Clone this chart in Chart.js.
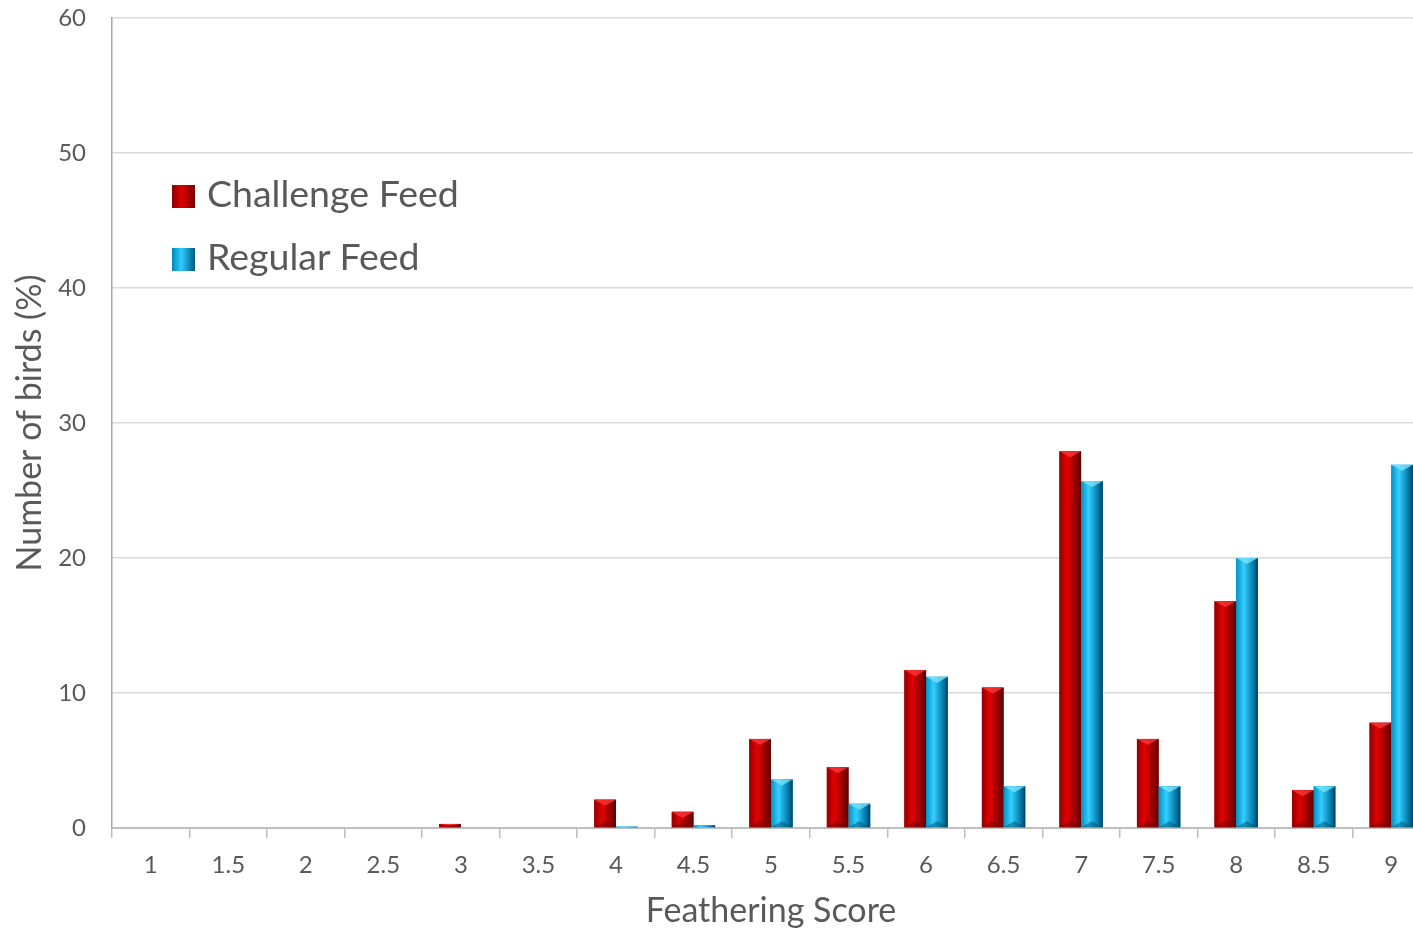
<!DOCTYPE html>
<html lang="en">
<head>
  <meta charset="UTF-8" />
  <title>Feathering Score</title>
  <script src="https://cdn.jsdelivr.net/npm/chart.js"></script>
  <style>
    html, body {
      margin: 0;
      padding: 0;
      background: #fff;
      overflow: hidden;
    }
    .wrap {
      position: relative;
      width: 1430px;
      height: 931px;
    }
    .legend {
      position: absolute;
      left: 172px;
      top: 169px;
      font-family: Lato, 'Open Sans', sans-serif;
      font-size: 37.5px;
      color: #595959;
    }
    .legend div {
      height: 63px;
      line-height: 48px;
      white-space: nowrap;
    }
    .legend span {
      display: inline-block;
      width: 23px;
      height: 23px;
      margin-right: 12px;
      vertical-align: -1px;
    }
  </style>
</head>
<body>
  <div class="wrap">
    <canvas id="chart" width="1430" height="931"></canvas>
    <div class="legend">
      <div><span style="background: linear-gradient(90deg,#8a0000,#e00000 40%,#7a0000)"></span>Challenge Feed</div>
      <div><span style="background: linear-gradient(90deg,#0088bb,#30ccff 40%,#005a80)"></span>Regular Feed</div>
    </div>
  </div>

  <script>
    const scores = ["1", "1.5", "2", "2.5", "3", "3.5", "4", "4.5", "5", "5.5", "6", "6.5", "7", "7.5", "8", "8.5", "9"];
    const challengeFeed = [0, 0, 0, 0, 0.3, 0, 2.1, 1.2, 6.6, 4.5, 11.7, 10.4, 27.9, 6.6, 16.8, 2.8, 7.8];
    const regularFeed = [0, 0, 0, 0, 0, 0, 0.1, 0.2, 3.6, 1.8, 11.2, 3.1, 25.7, 3.1, 20.0, 3.1, 26.9];

    const shades = {
      red: { stops: ["#920000", "#e30000", "#8a0000", "#5c0000"], top: "#ff3a3a", bottom: "#6a0000" },
      blue: { stops: ["#0090c4", "#35cfff", "#0078a8", "#003c58"], top: "#80e6ff", bottom: "#00506e" }
    };

    // paints the bevelled look over each bar using the bar's own geometry
    const bevelBars = {
      id: "bevelBars",
      afterDatasetsDraw(chart) {
        const ctx = chart.ctx;
        ctx.save();
        chart.data.datasets.forEach((ds, i) => {
          const meta = chart.getDatasetMeta(i);
          const sh = shades[ds.shade];
          meta.data.forEach((bar) => {
            const { x, y, base, width } = bar.getProps(["x", "y", "base", "width"], true);
            const l = x - width / 2, r = x + width / 2;
            const h = base - y;
            if (h <= 0) return;
            const g = ctx.createLinearGradient(l, 0, r, 0);
            g.addColorStop(0, sh.stops[0]);
            g.addColorStop(0.35, sh.stops[1]);
            g.addColorStop(0.8, sh.stops[2]);
            g.addColorStop(1, sh.stops[3]);
            ctx.fillStyle = g;
            ctx.fillRect(l, y, width, h);
            if (h < 3) return;
            const d = Math.min(width * 0.28, h / 2);
            ctx.globalAlpha = 0.75;
            ctx.fillStyle = sh.top;
            ctx.beginPath();
            ctx.moveTo(l, y);
            ctx.lineTo(r, y);
            ctx.lineTo(x, y + d);
            ctx.closePath();
            ctx.fill();
            ctx.globalAlpha = 0.5;
            ctx.fillStyle = sh.bottom;
            ctx.beginPath();
            ctx.moveTo(l, base);
            ctx.lineTo(r, base);
            ctx.lineTo(x, base - d);
            ctx.closePath();
            ctx.fill();
            ctx.globalAlpha = 1;
          });
        });
        ctx.restore();
      }
    };

    const font = "Lato, 'Open Sans', sans-serif";

    new Chart(document.getElementById("chart"), {
      type: "bar",
      data: {
        labels: scores,
        datasets: [
          { label: "Challenge Feed", data: challengeFeed, backgroundColor: "#c00000", shade: "red" },
          { label: "Regular Feed", data: regularFeed, backgroundColor: "#00b0f0", shade: "blue" }
        ]
      },
      options: {
        responsive: false,
        animation: false,
        categoryPercentage: 0.56,
        barPercentage: 1.0,
        layout: { padding: { top: 18, right: 0, left: 0, bottom: 0 } },
        plugins: {
          legend: { display: false },
          tooltip: { enabled: false }
        },
        scales: {
          x: {
            afterFit: (s) => { s.height = 103; s.paddingLeft = 0; s.paddingRight = 0; },
            grid: { offset: true, drawOnChartArea: false, color: "#bfbfbf", tickLength: 10, lineWidth: 1.5 },
            border: { color: "#bfbfbf", width: 2 },
            ticks: { color: "#595959", font: { family: font, size: 24 }, padding: 13 },
            title: { display: true, text: "Feathering Score", color: "#595959", font: { family: font, size: 34 }, padding: { top: 0, bottom: 0 } }
          },
          y: {
            min: 0,
            max: 60,
            afterFit: (s) => { s.width = 112; s.paddingTop = 0; s.paddingBottom = 0; },
            grid: { color: "#d9d9d9", drawTicks: false, lineWidth: 1.5 },
            border: { color: "#a6a6a6", width: 1.5 },
            ticks: { stepSize: 10, color: "#595959", font: { family: font, size: 24 }, padding: 26 },
            title: { display: true, text: "Number of birds (%)", color: "#595959", font: { family: font, size: 34 }, padding: { top: 10, bottom: 0 } }
          }
        }
      },
      plugins: [bevelBars]
    });
  </script>
</body>
</html>
